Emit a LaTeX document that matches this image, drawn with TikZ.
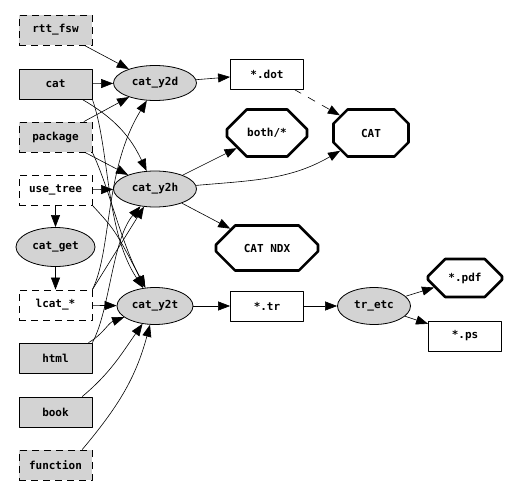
\documentclass[tikz,border=0pt]{standalone}
\usepackage{fontspec}
\setmonofont{DejaVu Sans Mono}
\usetikzlibrary{arrows.meta,shapes.geometric,shapes.misc}
\definecolor{filegray}{HTML}{D3D3D3}

\begin{document}
\begin{tikzpicture}[
    x=1pt, y=1pt,
    line join=round,
    every node/.style={font=\ttfamily\bfseries\fontsize{11}{13}\selectfont, inner sep=0pt},
    filebox/.style={draw, line width=0.8pt, rectangle, minimum width=73pt, minimum height=30pt},
    grayfile/.style={filebox, fill=filegray},
    dashfile/.style={filebox, dash pattern=on 7pt off 5pt},
    script/.style={draw, line width=0.8pt, ellipse, fill=filegray, minimum width=82pt, minimum height=36pt},
    product/.style={draw, line width=2.6pt, chamfered rectangle, chamfered rectangle xsep=15pt, chamfered rectangle ysep=15pt, minimum width=80pt, minimum height=47pt},
    link/.style={-{Triangle[length=12pt,width=9pt]}, line width=0.6pt}
]

    % Page
    \useasboundingbox[fill=white] (0,0) rectangle (515,-493);

    % Source files (left column)
    \node[grayfile, dashfile] (rttfsw) at (55.5,-30) {rtt\_fsw};
    \node[grayfile] (cat) at (55.5,-84) {cat};
    \node[grayfile, dashfile] (package) at (55.5,-137) {package};
    \node[dashfile] (usetree) at (55.5,-190) {use\_tree};
    \node[script, minimum width=79pt, minimum height=39pt] (catget) at (55.5,-247) {cat\_get};
    \node[dashfile] (lcat) at (55.5,-305) {lcat\_*};
    \node[grayfile] (html) at (55.5,-358) {html};
    \node[grayfile] (book) at (55.5,-412) {book};
    \node[grayfile, dashfile] (function) at (55.5,-465) {function};

    % Converters
    \node[script, minimum width=83pt, minimum height=35pt] (y2d) at (155,-83) {cat\_y2d};
    \node[script, minimum width=83pt, minimum height=36pt] (y2h) at (155,-189) {cat\_y2h};
    \node[script, minimum width=76pt, minimum height=37pt] (y2t) at (155,-306) {cat\_y2t};
    \node[script, minimum width=73pt, minimum height=37pt] (tretc) at (374,-306) {tr\_etc};

    % Intermediate files
    \node[filebox] (dot) at (267,-74) {*.dot};
    \node[filebox] (tr) at (267,-306) {*.tr};
    \node[filebox] (ps) at (465,-336) {*.ps};

    % Final products
    \node[product] (both) at (267,-133) {both/*};
    \node[product, minimum width=75pt] (catbig) at (371,-133) {CAT};
    \node[product, minimum width=102pt, minimum height=45pt] (catndx) at (267,-248) {CAT NDX};
    \node[product, minimum width=74pt, minimum height=38pt, chamfered rectangle xsep=12pt, chamfered rectangle ysep=12pt] (pdf) at (465,-278) {*.pdf};

    % Into cat_y2d
    \draw[link] (rttfsw) -- (y2d);
    \draw[link] (cat) -- (y2d);
    \draw[link] (package) -- (y2d);
    \draw[link] (lcat.north east) .. controls (112,-250) and (104,-170) .. (y2d.-115);

    % Into cat_y2h
    \draw[link] (cat) to[out=-30,in=115] (y2h);
    \draw[link] (package) -- (y2h);
    \draw[link] (usetree) -- (y2h);
    \draw[link] (lcat.north east) -- (y2h);
    \draw[link] (html.north east) .. controls (110,-310) and (112,-240) .. (y2h);

    % Into cat_y2t
    \draw[link] (cat.south east) .. controls (110,-150) and (105,-230) .. (y2t);
    \draw[link] (package.south east) .. controls (110,-190) and (120,-240) .. (y2t);
    \draw[link] (usetree.south east) .. controls (115,-230) .. (y2t);
    \draw[link] (lcat) -- (y2t);
    \draw[link] (html.25) to[out=30,in=-160] (y2t);
    \foreach \src/\o/\i in {book/40/-125, function/50/-105} {
        \draw[link] (\src.30) to[out=\o,in=\i] (y2t);
    }

    % Helper chain
    \draw[link] (usetree) -- (catget);
    \draw[link] (catget) -- (lcat);

    % Outputs
    \draw[link] (y2d) -- (dot);
    \draw[link, dash pattern=on 8pt off 8pt] (dot) -- (catbig);
    \draw[link] (y2h) -- (both);
    \draw[link] (y2h) to[out=5,in=-150] (catbig);
    \draw[link] (y2h) -- (catndx);
    \draw[link] (y2t) -- (tr);
    \draw[link] (tr) -- (tretc);
    \draw[link] (tretc) -- (pdf);
    \draw[link] (tretc) -- (ps);

\end{tikzpicture}
\end{document}
